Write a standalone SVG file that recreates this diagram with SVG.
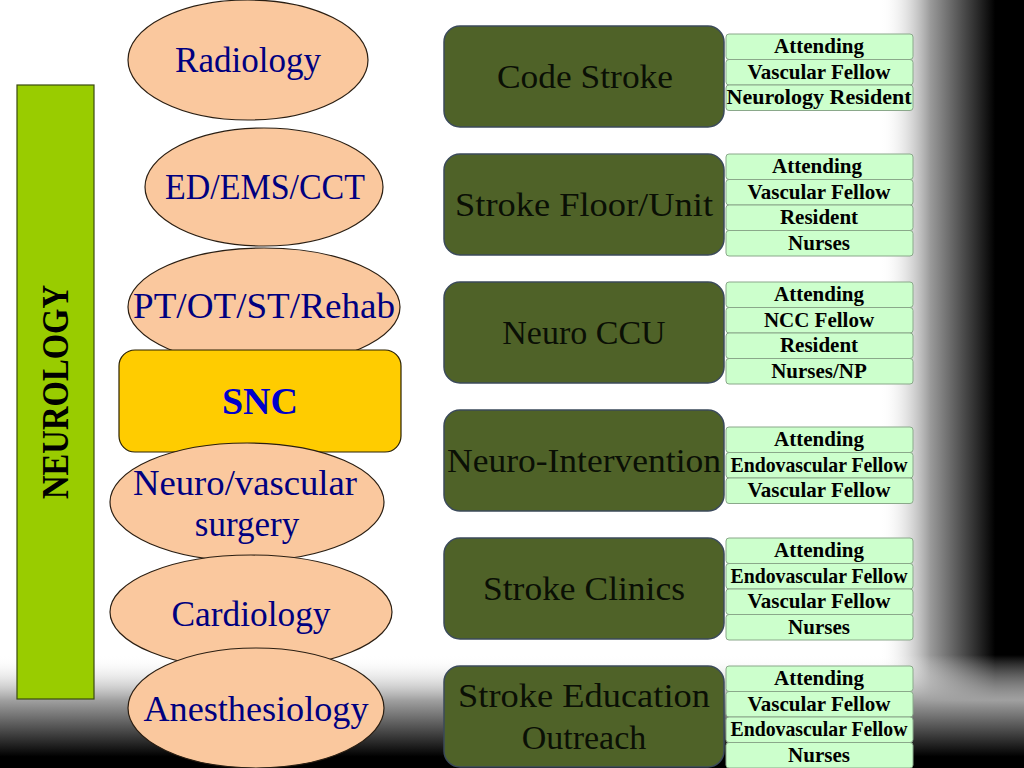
<svg xmlns="http://www.w3.org/2000/svg" width="1024" height="768" viewBox="0 0 1024 768">
<defs>
<linearGradient id="gr" x1="0" y1="0" x2="1" y2="0">
<stop offset="0" stop-color="#ffffff" stop-opacity="0"/>
<stop offset="0.35" stop-color="#9a9a9a"/>
<stop offset="0.8" stop-color="#000000"/>
<stop offset="1" stop-color="#000000"/>
</linearGradient>
<linearGradient id="gb" x1="0" y1="0" x2="0" y2="1">
<stop offset="0" stop-color="#ffffff" stop-opacity="0"/>
<stop offset="0.4" stop-color="#a0a0a0"/>
<stop offset="0.9" stop-color="#000000"/>
<stop offset="1" stop-color="#000000"/>
</linearGradient>
<style>
.ell{fill:#FAC89E;stroke:#2a1e12;stroke-width:1.2}
.et{font-family:"Liberation Serif",serif;font-size:35px;fill:#000080;text-anchor:middle}
.gb{fill:#4F6228;stroke:#3b4a5a;stroke-width:1.5}
.gt{font-family:"Liberation Serif",serif;font-size:34px;fill:#0a0f05;text-anchor:middle}
.lb{fill:#CCFFCC;stroke:#8aa88a;stroke-width:1}
.lt{font-family:"Liberation Serif",serif;font-size:21px;font-weight:bold;fill:#000000;text-anchor:middle}
</style>
</defs>
<rect x="0" y="0" width="1024" height="768" fill="#ffffff"/>
<rect x="880" y="0" width="144" height="768" fill="url(#gr)"/>
<rect x="0" y="655" width="1024" height="113" fill="url(#gb)"/>

<g id="neurology">
<rect x="17" y="85" width="77" height="614" fill="#99CC00" stroke="#3a4a10" stroke-width="1.2"/>
<text transform="translate(68,392) rotate(-90)" text-anchor="middle" font-family="Liberation Serif,serif" font-size="37" font-weight="bold" fill="#000000" textLength="214" lengthAdjust="spacingAndGlyphs">NEUROLOGY</text>
</g>

<g id="radiology">
<ellipse class="ell" cx="248" cy="60" rx="120" ry="60"/>
<text class="et" x="248" y="72">Radiology</text>
</g>
<g id="ed">
<ellipse class="ell" cx="264" cy="187" rx="119" ry="59"/>
<text class="et" x="265" y="199" textLength="200" lengthAdjust="spacingAndGlyphs">ED/EMS/CCT</text>
</g>
<g id="pt">
<ellipse class="ell" cx="264" cy="307" rx="136" ry="59"/>
<text class="et" x="264" y="318" textLength="262" lengthAdjust="spacingAndGlyphs">PT/OT/ST/Rehab</text>
</g>
<g id="snc">
<rect x="119" y="350" width="282" height="102" rx="16" fill="#FFCC00" stroke="#2a2000" stroke-width="1.2"/>
<text x="260" y="414" text-anchor="middle" font-family="Liberation Serif,serif" font-size="38" font-weight="bold" fill="#0000CC">SNC</text>
</g>
<g id="neurovascular">
<ellipse class="ell" cx="247" cy="502" rx="137" ry="59"/>
<text class="et" x="245" y="495" textLength="224" lengthAdjust="spacingAndGlyphs">Neuro/vascular</text>
<text class="et" x="247" y="536">surgery</text>
</g>
<g id="cardiology">
<ellipse class="ell" cx="251" cy="612" rx="141" ry="57"/>
<text class="et" x="251" y="626" textLength="159" lengthAdjust="spacingAndGlyphs">Cardiology</text>
</g>
<g id="anesthesiology">
<ellipse class="ell" cx="256" cy="708" rx="128" ry="60"/>
<text class="et" x="256" y="721" textLength="225" lengthAdjust="spacingAndGlyphs">Anesthesiology</text>
</g>

<g id="codestroke">
<rect class="gb" x="444" y="26" width="280" height="101" rx="16"/>
<text class="gt" x="585" y="88" textLength="176" lengthAdjust="spacingAndGlyphs">Code Stroke</text>
</g>
<g id="strokefloor">
<rect class="gb" x="444" y="154" width="280" height="101" rx="16"/>
<text class="gt" x="584" y="216" textLength="258" lengthAdjust="spacingAndGlyphs">Stroke Floor/Unit</text>
</g>
<g id="neuroccu">
<rect class="gb" x="444" y="282" width="280" height="101" rx="16"/>
<text class="gt" x="584" y="344">Neuro CCU</text>
</g>
<g id="neurointervention">
<rect class="gb" x="444" y="410" width="280" height="101" rx="16"/>
<text class="gt" x="584" y="472" textLength="274" lengthAdjust="spacingAndGlyphs">Neuro-Intervention</text>
</g>
<g id="strokeclinics">
<rect class="gb" x="444" y="538" width="280" height="101" rx="16"/>
<text class="gt" x="584" y="600" textLength="202" lengthAdjust="spacingAndGlyphs">Stroke Clinics</text>
</g>
<g id="education">
<rect class="gb" x="444" y="666" width="280" height="101" rx="16"/>
<text class="gt" x="584" y="707" textLength="252" lengthAdjust="spacingAndGlyphs">Stroke Education</text>
<text class="gt" x="584" y="749">Outreach</text>
</g>

<g id="codestroke-roles">
<rect class="lb" x="726" y="34" width="187" height="25.5" rx="3"/><text class="lt" x="819" y="53">Attending</text>
<rect class="lb" x="726" y="59.5" width="187" height="25.5" rx="3"/><text class="lt" x="819" y="78.5">Vascular Fellow</text>
<rect class="lb" x="726" y="85" width="187" height="25.5" rx="3"/><text class="lt" x="819" y="104" textLength="185" lengthAdjust="spacingAndGlyphs">Neurology Resident</text>
</g>
<g id="strokefloor-roles">
<rect class="lb" x="726" y="154" width="187" height="25.5" rx="3"/><text class="lt" x="817" y="173">Attending</text>
<rect class="lb" x="726" y="179.5" width="187" height="25.5" rx="3"/><text class="lt" x="819" y="198.5">Vascular Fellow</text>
<rect class="lb" x="726" y="205" width="187" height="25.5" rx="3"/><text class="lt" x="819" y="224">Resident</text>
<rect class="lb" x="726" y="230.5" width="187" height="25.5" rx="3"/><text class="lt" x="819" y="249.5">Nurses</text>
</g>
<g id="neuroccu-roles">
<rect class="lb" x="726" y="282" width="187" height="25.5" rx="3"/><text class="lt" x="819" y="301">Attending</text>
<rect class="lb" x="726" y="307.5" width="187" height="25.5" rx="3"/><text class="lt" x="819" y="326.5">NCC Fellow</text>
<rect class="lb" x="726" y="333" width="187" height="25.5" rx="3"/><text class="lt" x="819" y="352">Resident</text>
<rect class="lb" x="726" y="358.5" width="187" height="25.5" rx="3"/><text class="lt" x="819" y="377.5">Nurses/NP</text>
</g>
<g id="neurointervention-roles">
<rect class="lb" x="726" y="427" width="187" height="25.5" rx="3"/><text class="lt" x="819" y="446">Attending</text>
<rect class="lb" x="726" y="452.5" width="187" height="25.5" rx="3"/><text class="lt" x="819" y="471.5" textLength="177" lengthAdjust="spacingAndGlyphs">Endovascular Fellow</text>
<rect class="lb" x="726" y="478" width="187" height="25.5" rx="3"/><text class="lt" x="819" y="497">Vascular Fellow</text>
</g>
<g id="strokeclinics-roles">
<rect class="lb" x="726" y="538" width="187" height="25.5" rx="3"/><text class="lt" x="819" y="557">Attending</text>
<rect class="lb" x="726" y="563.5" width="187" height="25.5" rx="3"/><text class="lt" x="819" y="582.5" textLength="177" lengthAdjust="spacingAndGlyphs">Endovascular Fellow</text>
<rect class="lb" x="726" y="589" width="187" height="25.5" rx="3"/><text class="lt" x="819" y="608">Vascular Fellow</text>
<rect class="lb" x="726" y="614.5" width="187" height="25.5" rx="3"/><text class="lt" x="819" y="633.5">Nurses</text>
</g>
<g id="education-roles">
<rect class="lb" x="726" y="666" width="187" height="25.5" rx="3"/><text class="lt" x="819" y="685">Attending</text>
<rect class="lb" x="726" y="691.5" width="187" height="25.5" rx="3"/><text class="lt" x="819" y="710.5">Vascular Fellow</text>
<rect class="lb" x="726" y="717" width="187" height="25.5" rx="3"/><text class="lt" x="819" y="736" textLength="177" lengthAdjust="spacingAndGlyphs">Endovascular Fellow</text>
<rect class="lb" x="726" y="742.5" width="187" height="25.5" rx="3"/><text class="lt" x="819" y="761.5">Nurses</text>
</g>
<g id="connectors"/>
</svg>
